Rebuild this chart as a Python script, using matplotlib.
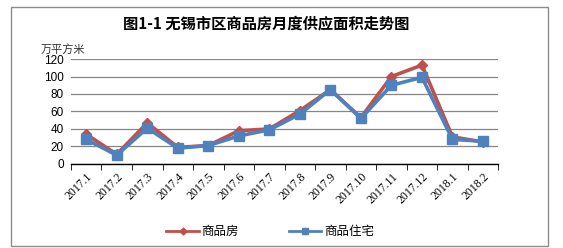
import matplotlib
matplotlib.use("Agg")
import matplotlib.pyplot as plt
from matplotlib.patches import Rectangle

plt.rcParams['font.family'] = ['Noto Sans CJK SC', 'DejaVu Sans']

months = ["2017.1", "2017.2", "2017.3", "2017.4", "2017.5", "2017.6", "2017.7",
          "2017.8", "2017.9", "2017.10", "2017.11", "2017.12", "2018.1", "2018.2"]
shangpinfang = [34, 11, 47, 19, 21, 38, 40, 61, 85, 53, 100, 113, 31, 25]
zhuzhai = [28, 10, 41, 18, 21, 32, 39, 57, 85, 52, 90, 99, 28, 26]

red = "#C0504D"
blue = "#4F81BD"

fig = plt.figure(figsize=(5.63, 2.48), dpi=100)
fig.patches.append(Rectangle((0.02, 0.008), 0.953, 0.964, transform=fig.transFigure,
                             fill=False, edgecolor="#8c8c8c", linewidth=1))

ax = fig.add_axes([0.126, 0.339, 0.759, 0.423])
x = range(len(months))
ax.plot(x, shangpinfang, color=red, lw=2.6, marker="D", ms=5, label="商品房", zorder=3)
ax.plot(x, zhuzhai, color=blue, lw=2.6, marker="s", ms=7, label="商品住宅", zorder=4)

ax.set_xlim(-0.5, len(months) - 0.5)
ax.set_ylim(0, 120)
ax.set_yticks(range(0, 121, 20))
ax.yaxis.grid(True, color="#868686", lw=0.9)
ax.set_axisbelow(True)
for s in ["top", "right", "left"]:
    ax.spines[s].set_visible(False)
ax.spines["bottom"].set_linewidth(1)
ax.tick_params(axis="y", length=0, labelsize=8.5, pad=5)
for t in ax.get_yticklabels():
    t.set_family("Liberation Sans")

ax.set_xticks(list(x))
ax.set_xticklabels(months, rotation=45, ha="right", rotation_mode="anchor",
                   fontsize=8.5, family="Liberation Serif")
ax.tick_params(axis="x", length=0, pad=5)
ax.set_xticks([i - 0.5 for i in range(len(months) + 1)], minor=True)
ax.tick_params(axis="x", which="minor", length=4, direction="out")

fig.text(0.473, 0.905, "图1-1 无锡市区商品房月度供应面积走势图", ha="center", va="center",
         fontsize=11, fontweight="bold")
fig.text(0.072, 0.8, "万平方米", ha="left", va="center", fontsize=8, color="#333333")

leg = fig.legend(loc="center", bbox_to_anchor=(0.48, 0.065), ncol=2, frameon=False,
                 fontsize=9, handlelength=2.6, columnspacing=4, handletextpad=0.2,
                 markerscale=0.7)
for h in leg.get_lines():
    h.set_linewidth(2)

fig.savefig("out.png", dpi=100)
